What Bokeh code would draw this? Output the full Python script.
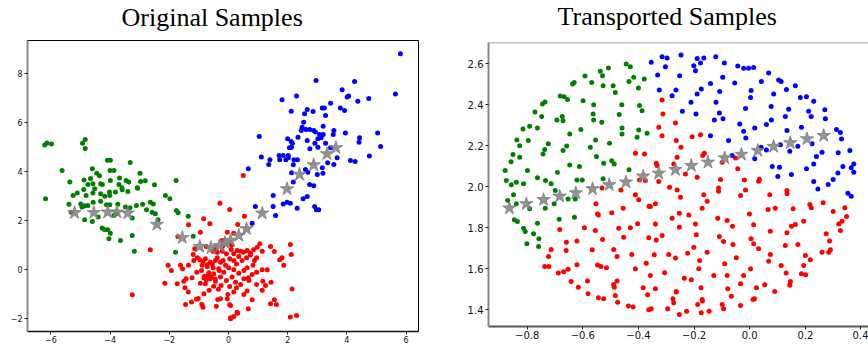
from bokeh.plotting import figure
from bokeh.models import Span, FixedTicker, Range1d, Title
from bokeh.embed import file_html
from bokeh.resources import INLINE

# ---------------- data: original samples ----------------
orig_green_x = [-6.21, -6.13, -5.98, -4.93, -4.84, -4.84, -5.62, -5.36, -4.60, -4.88, -4.66, -4.45, -4.36, -4.58,
                -4.32, -4.26, -4.09, -3.99, -4.00, -3.87, -3.99, -3.68, -3.70, -3.60, -3.46, -3.37, -3.32, -2.99,
                -2.97, -2.81, -3.07, -2.50, -1.77, -6.18, -5.25, -5.11, -4.89, -4.81, -4.58, -4.52, -4.32, -4.18,
                -4.02, -4.01, -3.82, -3.59, -3.40, -3.08, -5.39, -4.99, -4.95, -4.86, -4.75, -4.57, -4.32, -4.12,
                -4.01, -3.74, -3.48, -3.33, -3.11, -2.90, -2.77, -2.64, -2.58, -2.47, -2.54, -2.38, -2.13, -1.98,
                -1.76, -1.70, -1.36, -1.19, -1.79, -3.18, -3.25, -3.65, -3.99, -4.04, -4.27, -4.19, -4.08, -4.86,
                -4.60, -4.40, -3.25, -3.87, -3.79, -5.31, -4.75]
orig_green_y = [5.09, 5.18, 5.13, 5.17, 5.32, 4.95, 4.05, 3.58, 4.12, 3.67, 3.73, 3.94, 3.84, 3.51,
                3.51, 3.48, 4.47, 4.47, 4.05, 4.05, 3.64, 3.75, 3.48, 3.35, 3.64, 3.58, 4.38, 3.94,
                3.60, 3.63, 3.33, 3.47, 3.64, 2.90, 3.03, 3.13, 3.28, 3.03, 3.13, 3.31, 3.10, 3.00,
                3.17, 3.03, 3.17, 3.27, 3.20, 3.35, 2.67, 2.69, 2.56, 2.61, 2.62, 2.76, 2.80, 2.65,
                2.65, 2.67, 2.56, 2.53, 2.62, 2.67, 2.45, 2.76, 2.35, 2.29, 2.69, 2.04, 3.03, 2.90,
                2.42, 2.33, 2.19, 1.37, 0.72, 0.76, 1.40, 1.20, 1.49, 1.27, 1.71, 1.64, 1.63, 2.04,
                1.97, 2.15, 2.11, 2.22, 2.29, 2.35, 3.48]

orig_red_x = [-3.25, -2.64, -2.15, -2.04, -1.93, -1.73, -1.62, -1.55, -1.51, -1.47, -1.45, -1.43, -1.36, -1.35,
              -1.35, -1.71, -1.25, -1.23, -1.19, -1.17, -1.14, -1.08, -1.07, -1.05, -1.02, -0.97, -0.95, -0.95,
              -0.91, -0.90, -0.86, -0.89, -0.86, -0.84, -0.81, -0.78, -0.75, -0.72, -0.70, -0.65, -0.63, -0.61,
              -0.59, -0.52, -0.52, -0.50, -0.45, -0.41, -0.38, -0.36, -0.34, -0.31, -0.29, 0.04, 0.54, 0.31,
              0.18, -0.04, -0.21, -0.38, -0.21, -0.07, 0.09, 0.18, 0.29, 0.41, 0.50, 0.63, 0.74, 0.85,
              0.97, 1.06, 1.14, 1.42, 1.55, 2.09, 2.12, 1.81, 1.73, 1.87, -0.72, -0.55, -0.44, -0.27,
              -0.18, -0.10, 0.04, 0.18, 0.27, 0.35, 0.46, 0.61, 0.74, 0.88, 0.95, 0.83, 0.63, 0.52,
              0.35, 0.18, 0.01, -0.16, -0.33, -0.50, -0.66, -0.83, -0.78, -0.61, -0.44, -0.27, -0.25, -0.07,
              0.04, 0.12, 0.24, 0.27, 0.41, 0.52, 0.67, 0.69, 0.80, 0.95, 1.14, 1.31, 1.16, 1.25,
              1.44, 1.14, 0.95, 0.63, 0.80, 0.52, 0.18, -0.02, -0.04, -0.27, 0.07, 0.67, 0.29, 0.18,
              0.07, 1.42, 1.55, 1.62, 2.09, 2.30, 2.15, -0.83, 0.04, 0.07, 0.31, 0.50, -0.75, -0.45,
              -0.20, 0.10]
orig_red_y = [-1.02, 0.82, -0.55, 0.18, -0.03, -0.57, 0.18, 0.04, -0.47, -0.73, -1.42, -0.37, -0.91, 0.18,
              1.84, 1.36, -1.32, -0.33, 0.62, 0.38, 0.86, -1.20, -0.10, 0.49, -1.17, 0.41, 1.53, -0.55,
              -0.03, -1.42, -1.53, 0.18, 0.34, 2.08, -0.26, 0.45, -0.41, 0.20, -0.23, -0.84, 1.88, 0.31,
              -0.30, 0.08, 0.76, -0.67, -0.38, -1.49, 0.49, -1.21, -0.80, -0.03, 2.72, 2.46, 2.19, 1.85,
              1.49, 1.53, 1.20, 0.72, 0.76, 0.65, 0.83, 0.65, 0.79, 0.76, 0.72, 0.79, 0.68, 0.82,
              0.92, 1.06, 0.76, 0.95, 0.75, 1.03, 0.62, 0.49, 0.41, 0.18, 0.13, 0.24, 0.38, 0.31,
              0.38, 0.18, 0.45, 0.38, 0.24, 0.54, 0.38, 0.49, 0.60, 0.38, 0.49, 0.18, 0.08, -0.03,
              -0.14, 0.00, 0.08, -0.10, 0.04, -0.16, -0.12, -0.33, -0.57, -0.37, -0.47, -0.30, -0.64, -0.44,
              -0.68, -0.30, -0.51, -0.73, -0.60, -0.37, -0.33, -0.44, -0.19, -0.10, 0.00, 0.00, -0.47, -0.64,
              -0.51, -0.84, -0.60, -0.87, -1.22, -1.01, -0.91, -1.01, -1.18, -1.18, -1.46, -1.59, -1.73, -1.91,
              -1.96, -1.39, -1.22, -1.42, -1.93, -1.87, -0.78, -0.98, -1.43, -2.00, -1.77, 3.85, 0.95, 0.85,
              0.95, 1.00]

orig_blue_x = [5.81, 5.64, 2.96, 4.26, 3.84, 4.01, 4.06, 4.37, 4.74, 1.81, 2.30, 2.12, 3.45, 3.17, 3.24,
               3.78, 3.92, 2.86, 2.66, 2.57, 3.28, 2.54, 2.49, 2.46, 2.62, 2.75, 2.88, 2.94, 3.20, 3.08,
               3.20, 3.02, 3.13, 3.56, 3.54, 3.95, 4.43, 4.41, 5.04, 5.14, 1.04, 2.00, 2.12, 2.16, 2.35,
               2.66, 2.92, 3.28, 2.75, 3.02, 2.06, 2.13, 3.45, 3.67, 4.12, 4.28, 4.76, 3.56, 3.35, 3.17,
               3.19, 3.00, 2.68, 2.60, 1.11, 1.40, 1.36, 1.71, 1.85, 2.02, 1.73, 1.94, 2.02, 2.21, 2.33,
               2.19, 0.67, 2.13, 2.19, 2.74, 2.88, 1.51, 0.91, 1.51, 1.59, 0.80, 1.85, 1.98, 2.09, 2.32,
               2.52, 2.66, 2.91, 2.97, 3.05]
orig_blue_y = [8.82, 7.18, 7.73, 7.69, 7.35, 7.05, 7.09, 6.88, 6.99, 6.94, 7.09, 6.47, 6.80, 6.60, 6.60,
               6.60, 6.50, 6.46, 6.54, 6.37, 6.30, 6.02, 5.82, 5.69, 5.73, 5.73, 5.69, 5.62, 5.86, 5.52,
               5.52, 5.35, 5.39, 5.69, 5.52, 5.58, 5.39, 5.21, 5.58, 5.03, 5.44, 5.35, 5.24, 5.17, 5.41,
               5.28, 5.17, 5.17, 4.94, 5.00, 4.98, 5.00, 4.98, 4.57, 4.46, 4.42, 4.64, 4.30, 4.37, 4.16,
               3.94, 3.89, 3.98, 4.09, 4.60, 4.49, 4.30, 4.67, 4.67, 4.67, 4.49, 4.49, 4.57, 4.49, 4.49,
               4.29, 4.12, 3.96, 3.58, 3.48, 3.43, 3.03, 2.58, 2.58, 2.22, 1.90, 2.69, 2.76, 2.72, 2.51,
               2.90, 2.99, 2.58, 2.45, 2.45]

orig_star_x = [-5.20, -4.55, -4.08, -3.77, -3.40, -2.42, -1.56, -0.97, -0.59, -0.30, -0.12, 0.07, 0.35, 0.61,
               1.14, 1.98, 2.40, 2.88, 3.33, 3.63]
orig_star_y = [2.33, 2.33, 2.35, 2.35, 2.31, 1.85, 1.31, 0.95, 0.90, 0.98, 1.10, 1.20, 1.40, 1.67,
               2.31, 3.30, 3.89, 4.28, 4.73, 4.98]

# ---------------- data: transported samples ----------------
trans_green_x = [-0.879, -0.875, -0.858, -0.857, -0.851, -0.839, -0.837, -0.827, -0.827, -0.815, -0.813, -0.799,
                 -0.796, -0.791, -0.772, -0.763, -0.763, -0.748, -0.743, -0.737, -0.745, -0.736, -0.734, -0.724,
                 -0.714, -0.693, -0.691, -0.681, -0.674, -0.671, -0.671, -0.667, -0.655, -0.658, -0.647, -0.647,
                 -0.637, -0.631, -0.621, -0.612, -0.607, -0.602, -0.599, -0.592, -0.568, -0.563, -0.561, -0.561,
                 -0.573, -0.554, -0.551, -0.537, -0.532, -0.529, -0.527, -0.525, -0.527, -0.508, -0.504, -0.496,
                 -0.487, -0.491, -0.483, -0.469, -0.460, -0.459, -0.459, -0.444, -0.434, -0.434, -0.429, -0.417,
                 -0.405, -0.400, -0.399, -0.396, -0.387, -0.379, -0.369, -0.870, -0.849, -0.839, -0.846, -0.835,
                 -0.813, -0.807, -0.801, -0.791, -0.777, -0.763, -0.758, -0.759, -0.735, -0.703, -0.685, -0.653,
                 -0.630, -0.627, -0.699]
trans_green_y = [2.080, 2.031, 2.123, 2.010, 2.158, 2.022, 2.229, 2.201, 2.144, 2.283, 2.015, 2.080,
                 2.226, 2.296, 2.366, 2.288, 2.044, 2.344, 2.161, 2.183, 2.405, 2.415, 2.031, 2.210,
                 2.015, 2.327, 2.070, 2.444, 2.343, 2.323, 2.177, 2.440, 2.427, 2.200, 2.258, 2.107,
                 2.502, 2.510, 2.034, 2.099, 2.280, 2.034, 2.421, 2.541, 2.510, 2.356, 2.327, 2.401,
                 2.193, 2.229, 2.148, 2.564, 2.315, 2.543, 2.494, 2.115, 2.039, 2.580, 2.213, 2.128,
                 2.112, 2.494, 2.461, 2.353, 2.401, 2.288, 2.258, 2.600, 2.084, 2.515, 2.587, 2.535,
                 2.242, 2.483, 2.278, 2.397, 2.372, 2.527, 2.262, 1.933, 1.962, 1.917, 1.839, 1.831,
                 1.798, 1.782, 1.722, 1.893, 1.771, 1.822, 1.746, 1.709, 1.896, 1.917, 1.842, 1.941,
                 1.852, 1.941, 1.982]

trans_red_x = [-0.683, -0.714, -0.723, -0.737, -0.722, -0.688, -0.669, -0.659, -0.660, -0.653, -0.642, -0.621,
               -0.621, -0.616, -0.594, -0.583, -0.581, -0.566, -0.555, -0.553, -0.547, -0.544, -0.547, -0.535,
               -0.544, -0.529, -0.525, -0.515, -0.496, -0.489, -0.489, -0.487, -0.483, -0.477, -0.477, -0.475,
               -0.471, -0.531, -0.463, -0.455, -0.453, -0.436, -0.419, -0.429, -0.424, -0.411, -0.411, -0.399,
               -0.403, -0.383, -0.372, -0.367, -0.363, -0.362, -0.354, -0.295, -0.276, -0.273, -0.264, -0.253,
               -0.227, -0.187, -0.170, -0.174, -0.146, -0.099, -0.094, -0.066, -0.033, 0.012, 0.017, 0.090,
               -0.327, -0.288, -0.261, -0.249, -0.165, -0.153, -0.171, -0.112, -0.112, -0.033, -0.015, 0.032,
               0.072, 0.134, 0.134, 0.216, 0.221, 0.264, 0.342, 0.300, 0.348, 0.332, 0.320, 0.326,
               0.275, 0.287, 0.290, 0.284, 0.260, 0.194, 0.164, 0.150, 0.156, 0.092, 0.066, 0.134,
               0.173, 0.128, 0.074, 0.014, -0.001, 0.005, 0.014, 0.032, 0.074, 0.068, 0.113, 0.131,
               0.146, 0.144, 0.186, 0.201, 0.200, 0.194, 0.218, 0.054, 0.024, -0.033, -0.022, 0.003,
               -0.048, -0.060, -0.094, -0.109, -0.081, -0.062, -0.115, -0.090, -0.081, -0.079, -0.175, -0.171,
               -0.129, -0.183, -0.180, -0.153, -0.201, -0.223, -0.192, -0.195, -0.219, -0.253, -0.253, -0.279,
               -0.267, -0.291, -0.306, -0.235, -0.210, -0.264, -0.315, -0.336, -0.339, -0.357, -0.339, -0.363,
               -0.343, -0.357, -0.339, -0.315, -0.312, -0.327, -0.315, -0.267, -0.264, -0.247, -0.261, -0.207,
               -0.177, -0.163, -0.169, -0.273, -0.231, -0.189, -0.105, -0.099, -0.051, -0.043, -0.019, 0.035,
               -0.378, -0.375, -0.336, -0.333, -0.411, -0.396]
trans_red_y = [1.792, 1.694, 1.660, 1.611, 1.611, 1.579, 1.585, 1.730, 1.689, 1.597, 1.538, 1.735,
               1.619, 1.510, 1.800, 1.540, 1.478, 1.693, 1.787, 1.917, 1.868, 1.863, 1.618, 1.611,
               1.459, 1.743, 1.454, 1.605, 1.873, 1.694, 1.523, 1.510, 1.470, 1.660, 1.540, 1.437,
               1.798, 1.995, 1.985, 1.896, 1.754, 1.418, 1.413, 1.800, 1.670, 1.600, 1.962, 1.937,
               1.820, 1.507, 1.627, 1.473, 1.400, 1.905, 1.405, 1.405, 1.454, 1.434, 1.486, 1.377,
               1.392, 1.426, 1.442, 1.385, 1.392, 1.426, 1.405, 1.466, 1.421, 1.450, 1.454, 1.489,
               2.026, 1.998, 1.985, 1.949, 1.961, 1.930, 1.896, 1.995, 1.979, 1.958, 1.985, 2.027,
               1.962, 1.982, 1.966, 1.914, 1.898, 1.922, 1.898, 1.880, 1.855, 1.832, 1.819, 1.787,
               1.771, 1.735, 1.693, 1.681, 1.681, 1.832, 1.816, 1.808, 1.893, 1.896, 1.889, 1.776,
               1.719, 1.714, 1.783, 1.815, 1.868, 1.746, 1.722, 1.698, 1.670, 1.637, 1.616, 1.579,
               1.538, 1.519, 1.576, 1.571, 1.665, 1.616, 1.644, 1.522, 1.507, 1.527, 1.567, 1.600,
               1.654, 1.719, 1.733, 1.758, 1.836, 1.808, 1.847, 1.624, 1.567, 1.502, 1.507, 1.450,
               1.567, 1.600, 1.640, 1.681, 1.705, 1.676, 1.766, 1.819, 1.863, 1.871, 1.803, 1.847,
               1.652, 1.670, 1.580, 1.554, 1.546, 1.489, 1.762, 1.741, 1.819, 1.904, 1.917, 1.751,
               1.668, 1.567, 1.502, 2.424, 2.356, 2.291, 2.250, 2.312, 2.226, 2.193, 2.144, 2.245,
               2.254, 2.164, 2.153, 2.112, 2.063, 2.047, 2.036, 2.120, 2.141, 2.088, 2.034, 2.037,
               2.161, 2.031, 2.115, 2.104, 2.164, 2.034]

trans_blue_x = [-0.354, -0.315, -0.297, -0.303, -0.247, -0.331, -0.252, -0.189, -0.165, -0.201, -0.177, -0.195,
                -0.122, -0.091, -0.043, -0.022, -0.004, 0.014, -0.097, -0.054, -0.141, 0.068, 0.042, 0.104,
                0.113, 0.164, 0.132, 0.005, 0.003, 0.086, 0.182, 0.204, 0.230, -0.108, -0.174, -0.189,
                -0.265, -0.279, -0.325, -0.211, -0.242, -0.193, -0.121, -0.109, -0.127, -0.096, -0.015, 0.077,
                0.140, 0.128, 0.078, 0.060, 0.018, -0.036, -0.022, -0.014, -0.076, -0.141, 0.212, 0.221,
                0.270, 0.272, 0.186, 0.134, 0.312, 0.326, 0.330, 0.018, 0.041, 0.060, 0.110, 0.144,
                0.173, 0.224, 0.260, 0.240, 0.230, 0.204, 0.150, 0.101, 0.081, 0.107, 0.230, 0.282,
                0.300, 0.317, 0.335, 0.365, 0.374, 0.374, 0.360, 0.318, 0.245, 0.353, 0.365, -0.063]
trans_blue_y = [2.608, 2.636, 2.629, 2.587, 2.644, 2.546, 2.543, 2.627, 2.629, 2.592, 2.605, 2.567,
                2.636, 2.605, 2.590, 2.579, 2.579, 2.583, 2.535, 2.507, 2.505, 2.556, 2.515, 2.522,
                2.515, 2.494, 2.475, 2.470, 2.437, 2.454, 2.437, 2.440, 2.418, 2.466, 2.478, 2.454,
                2.473, 2.445, 2.473, 2.413, 2.369, 2.356, 2.413, 2.361, 2.327, 2.332, 2.383, 2.393,
                2.379, 2.344, 2.327, 2.304, 2.288, 2.307, 2.271, 2.239, 2.226, 2.250, 2.369, 2.344,
                2.377, 2.332, 2.291, 2.275, 2.280, 2.266, 2.234, 2.137, 2.193, 2.180, 2.206, 2.174,
                2.198, 2.210, 2.169, 2.148, 2.112, 2.088, 2.060, 2.050, 2.100, 2.096, 2.026, 2.011,
                2.036, 2.068, 2.099, 2.093, 2.112, 2.071, 2.177, 2.166, 1.990, 1.969, 1.954, 2.153]

trans_star_x = [-0.864, -0.803, -0.741, -0.683, -0.625, -0.565, -0.505, -0.445, -0.383, -0.327, -0.267, -0.210,
                -0.150, -0.090, -0.030, 0.029, 0.086, 0.146, 0.206, 0.266]
trans_star_y = [1.896, 1.917, 1.937, 1.954, 1.970, 1.990, 2.010, 2.023, 2.052, 2.066, 2.084, 2.104,
                2.120, 2.141, 2.158, 2.177, 2.197, 2.215, 2.234, 2.250]

# ---------------- ticks ----------------
orig_xticks = [-6, -4, -2, 0, 2, 4, 6]
orig_xlabels = ["\u22126", "\u22124", "\u22122", "0", "2", "4", "6"]
orig_yticks = [-2, 0, 2, 4, 6, 8]
orig_ylabels = ["\u22122", "0", "2", "4", "6", "8"]
trans_xticks = [-0.8, -0.6, -0.4, -0.2, 0.0, 0.2, 0.4]
trans_xlabels = ["\u22120.8", "\u22120.6", "\u22120.4", "\u22120.2", "0.0", "0.2", "0.4"]
trans_yticks = [1.4, 1.6, 1.8, 2.0, 2.2, 2.4, 2.6]
trans_ylabels = ["1.4", "1.6", "1.8", "2.0", "2.2", "2.4", "2.6"]

GREEN = "#008000"
RED = "#ff0000"
BLUE = "#0000ff"
STAR = "#808080"


def style_axes(p, xt, xl, yt, yl, font_px, left_col, bottom_col):
    p.xaxis.ticker = FixedTicker(ticks=xt)
    p.yaxis.ticker = FixedTicker(ticks=yt)
    p.xaxis.major_label_overrides = {t: s for t, s in zip(xt, xl)}
    p.yaxis.major_label_overrides = {t: s for t, s in zip(yt, yl)}
    for ax, col in ((p.xaxis, bottom_col), (p.yaxis, left_col)):
        ax.axis_line_color = col
        ax.axis_line_width = 2
        ax.major_tick_line_color = "#222222"
        ax.major_tick_line_width = 1
        ax.major_tick_out = 3
        ax.major_tick_in = 0
        ax.minor_tick_line_color = None
        ax.major_label_standoff = 2
        ax.major_label_text_font = "DejaVu Sans"
        ax.major_label_text_font_size = font_px
        ax.major_label_text_color = "#111111"
    p.xaxis.major_label_standoff = 1
    p.xgrid.visible = False
    p.ygrid.visible = False


def add_points(p, gx, gy, rx, ry, bx, by, sx, sy, dot, star):
    p.scatter(gx, gy, size=dot, color=GREEN, line_width=0)
    p.scatter(rx, ry, size=dot, color=RED, line_width=0)
    p.scatter(bx, by, size=dot, color=BLUE, line_width=0)
    p.scatter(sx, sy, marker="star", size=star, fill_color=STAR, line_color=STAR,
              fill_alpha=0.85, line_alpha=0.85)


def add_title(p, text, offset, standoff):
    p.add_layout(Title(text=text, align="left", offset=offset, vertical_align="top", standoff=standoff,
                       text_font="Liberation Serif", text_font_size="26px",
                       text_font_style="normal", text_color="#000000"), "above")


# ---------------- left panel ----------------
p1 = figure(width=430, height=353, output_backend="svg", toolbar_location=None,
            x_range=Range1d(-6.79, 6.42), y_range=Range1d(-2.52, 9.36),
            min_border_left=27, min_border_right=12, min_border_top=45, min_border_bottom=17,
            styles={"position": "absolute", "left": "0px", "top": "-5px"})
p1.outline_line_color = "#000000"
p1.outline_line_width = 1
style_axes(p1, orig_xticks, orig_xlabels, orig_yticks, orig_ylabels, "8px", "#888888", "#111111")
p1.xaxis.axis_line_width = 1.5
add_points(p1, orig_green_x, orig_green_y, orig_red_x, orig_red_y, orig_blue_x, orig_blue_y,
           orig_star_x, orig_star_y, 5, 14)
add_title(p1, "Original Samples", 94, 14)

# ---------------- right panel ----------------
p2 = figure(width=438, height=357, output_backend="svg", toolbar_location=None,
            x_range=Range1d(-0.939, 0.427), y_range=Range1d(1.318, 2.705),
            min_border_left=58, min_border_right=0, min_border_top=51, min_border_bottom=22,
            styles={"position": "absolute", "left": "430px", "top": "-9px"})
p2.outline_line_color = None
style_axes(p2, trans_xticks, trans_xlabels, trans_yticks, trans_ylabels, "10px", "#888888", "#555555")
p2.add_layout(Span(location=2.705, dimension="width", line_color="#888888", line_width=1.5))
add_points(p2, trans_green_x, trans_green_y, trans_red_x, trans_red_y, trans_blue_x, trans_blue_y,
           trans_star_x, trans_star_y, 5, 14)
add_title(p2, "Transported Samples", 69, 20)

open("out.html", "w").write(file_html([p1, p2], INLINE))
